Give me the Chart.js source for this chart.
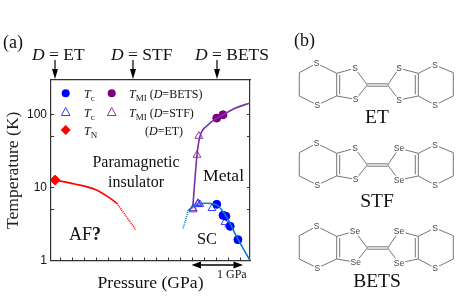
<!DOCTYPE html>
<html>
<head>
<meta charset="utf-8">
<script src="https://cdn.jsdelivr.net/npm/chart.js@4"></script>
<style>
    html, body { margin: 0; padding: 0; background: #fff; }
    #wrap { position: relative; width: 463px; height: 301px; overflow: hidden; }
    #chart, #overlay { position: absolute; left: 0; top: 0; }
    #overlay text { font-family: "Liberation Serif", serif; fill: #111; }
    #overlay .atom { font-family: "Liberation Sans", sans-serif; font-size: 8.5px; fill: #444; text-anchor: middle;
        paint-order: stroke; stroke: #fff; stroke-width: 3px; }
</style>
</head>
<body>
<div id="wrap">
    <canvas id="chart" width="463" height="301"></canvas>
    <svg id="overlay" width="463" height="301" xmlns="http://www.w3.org/2000/svg"></svg>
</div>
<script>
// Phase diagram data: pressure in GPa (relative), temperature in K
const afLineP = [-0.10, 0.31, 0.73, 0.98, 1.18];
const afLineT = [12.7, 11.2, 9.44, 7.6, 6.1];
const afDotP = [1.18, 1.37, 1.57];
const afDotT = [6.1, 4.05, 2.65];
const miLineP = [2.74, 2.755, 2.78, 2.81, 2.84, 2.90, 3.05, 3.25, 3.38, 3.63, 3.94];
const miLineT = [5.2, 5.7, 9.2, 16.4, 28, 50, 70.5, 89.5, 100, 123, 145];
const scLineP = [2.66, 2.84, 3.05, 3.26, 3.46, 3.67, 3.94];
const scLineT = [4.9, 5.9, 6.1, 5.7, 3.9, 2.07, 1.0];
const scDotP = [2.55, 2.59, 2.66];
const scDotT = [2.76, 3.34, 4.9];

const tcBetsP = [3.25, 3.38, 3.44, 3.53, 3.69];
const tcBetsT = [5.9, 4.17, 4.05, 2.94, 1.93];
const tcStfP = [2.76, 2.86, 2.90, 3.15, 3.42, 3.50];
const tcStfT = [5.0, 6.1, 5.9, 5.2, 3.34, 3.1];
const tmiBetsP = [3.25, 3.38];
const tmiBetsT = [90, 100];
const tmiStfP = [2.88, 2.84, 2.76, 2.86];
const tmiStfT = [51, 28, 5.2, 5.9];
const tnEtP = [-0.10];
const tnEtT = [12.7];

const yTicks = [1, 5, 10, 50, 100];
const yTickLabels = [1, 10, 100];
const xTicks = [0, 0.25, 0.5, 0.75, 1, 1.25, 1.5, 1.75, 2, 2.25, 2.5, 2.75, 3, 3.25, 3.5, 3.75];

const blue = '#0000ff';
const openBlue = '#3a3aff';
const domeBlue = '#0b7fc6';
const purple = '#7a2ea6';
const darkPurple = '#80007f';
const openPurple = '#9a2fa8';
const red = '#ff0000';
const ink = '#333';

function toPoints(xs, ys) {
    return xs.map((x, i) => ({ x: x, y: ys[i] }));
}

function lineSet(xs, ys, color, dash) {
    return {
        data: toPoints(xs, ys),
        showLine: true,
        borderColor: color,
        borderWidth: 1.6,
        borderDash: dash || [],
        pointRadius: 0,
        cubicInterpolationMode: 'monotone'
    };
}

function markerSet(xs, ys, style, color, filled, radius) {
    return {
        data: toPoints(xs, ys),
        showLine: false,
        pointStyle: style,
        pointRadius: radius,
        pointBorderColor: color,
        pointBorderWidth: 1,
        pointBackgroundColor: filled ? color : 'rgba(0,0,0,0)'
    };
}

function fixedTicks(list) {
    return axis => { axis.ticks = list.map(v => ({ value: v })); };
}

function fixedSize(prop, size) {
    return axis => { axis[prop] = size; };
}

new Chart(document.getElementById('chart').getContext('2d'), {
    type: 'scatter',
    data: {
        datasets: [
            lineSet(scLineP, scLineT, domeBlue),
            lineSet(scDotP, scDotT, domeBlue, [1, 1]),
            lineSet(miLineP, miLineT, purple),
            lineSet(afLineP, afLineT, red),
            lineSet(afDotP, afDotT, red, [1, 1]),
            markerSet(tcBetsP, tcBetsT, 'circle', blue, true, 4),
            markerSet(tcStfP, tcStfT, 'triangle', openBlue, false, 4.5),
            markerSet(tmiBetsP, tmiBetsT, 'circle', darkPurple, true, 4),
            markerSet(tmiStfP, tmiStfT, 'triangle', openPurple, false, 4.5),
            markerSet(tnEtP, tnEtT, 'rectRot', red, true, 5)
        ]
    },
    options: {
        responsive: false,
        animation: false,
        layout: { padding: { left: 0, top: 80, right: 213, bottom: 0 } },
        plugins: { legend: { display: false }, tooltip: { enabled: false } },
        scales: {
            x: {
                type: 'linear',
                position: 'bottom',
                min: -0.187,
                max: 3.94,
                afterBuildTicks: fixedTicks(xTicks),
                afterFit: fixedSize('height', 40.5),
                border: { color: ink, width: 1.2 },
                grid: { drawOnChartArea: false, tickLength: -3, tickColor: ink },
                ticks: { display: false, autoSkip: false },
                title: {
                    display: true,
                    text: 'Pressure (GPa)',
                    color: '#111',
                    font: { family: '"Liberation Serif", serif', size: 17.6 },
                    padding: { top: 0, bottom: 7 }
                }
            },
            x2: {
                type: 'linear',
                position: 'top',
                min: -0.187,
                max: 3.94,
                afterFit: fixedSize('height', 0),
                border: { color: ink, width: 1.2 },
                grid: { display: false },
                ticks: { display: false }
            },
            y: {
                type: 'logarithmic',
                position: 'left',
                min: 1,
                max: 300,
                afterBuildTicks: fixedTicks(yTicks),
                afterFit: fixedSize('width', 51),
                border: { color: ink, width: 1.2 },
                grid: { drawOnChartArea: false, tickLength: -3, tickColor: ink },
                ticks: {
                    autoSkip: false,
                    padding: 7,
                    color: '#111',
                    font: { family: '"Liberation Sans", sans-serif', size: 12 },
                    callback: v => yTickLabels.includes(v) ? String(v) : ''
                },
                title: {
                    display: true,
                    text: 'Temperature (K)',
                    color: '#222',
                    font: { family: '"Liberation Serif", serif', size: 17.6 },
                    padding: { top: 3, bottom: 0 }
                }
            },
            y2: {
                type: 'logarithmic',
                position: 'right',
                min: 1,
                max: 300,
                afterBuildTicks: fixedTicks(yTicks),
                afterFit: fixedSize('width', 0),
                border: { color: ink, width: 1.2 },
                grid: { drawOnChartArea: false, tickLength: -3, tickColor: ink },
                ticks: { display: false, autoSkip: false }
            }
        }
    }
});

// Annotations and molecule sketches go in an SVG on top of the canvas
const svg = document.getElementById('overlay');
const NS = 'http://www.w3.org/2000/svg';

function add(name, attrs, parent) {
    const el = document.createElementNS(NS, name);
    Object.keys(attrs).forEach(k => el.setAttribute(k, attrs[k]));
    (parent || svg).appendChild(el);
    return el;
}

// parts: plain strings or [text, {tspan attributes}]
function label(x, y, size, parts, anchor) {
    const t = add('text', { x: x, y: y, 'font-size': size, 'text-anchor': anchor || 'start' });
    [].concat(parts).forEach(p => {
        const span = add('tspan', Array.isArray(p) ? p[1] : {}, t);
        span.textContent = Array.isArray(p) ? p[0] : p;
    });
}

const ital = { 'font-style': 'italic' };

function subscript(text) {
    return [text, { 'font-size': 9, dy: 3 }];
}

function afterSub(text) {
    return [text, { dy: -3 }];
}

label(3, 48, 18, '(a)');
label(294, 46, 18, '(b)');

label(32, 60, 17.5, [['D', ital], ' = ET']);
label(111, 60, 17.5, [['D', ital], ' = STF']);
label(195, 60, 17.5, [['D', ital], ' = BETS']);

function downArrow(x) {
    add('line', { x1: x, y1: 60, x2: x, y2: 72, stroke: '#000', 'stroke-width': 1.2 });
    add('path', { d: `M${x - 3} 69 L${x + 3} 69 L${x} 79 Z`, fill: '#000' });
}
[55, 133, 217].forEach(downArrow);

// Legend
label(84, 98, 12, [['T', ital], subscript('c')]);
label(84, 117, 12, [['T', ital], subscript('c')]);
label(84, 135, 12, [['T', ital], subscript('N')]);
label(129, 98, 12, [['T', ital], subscript('MI'), afterSub(' ('), ['D', ital], '=BETS)']);
label(129, 117, 12, [['T', ital], subscript('MI'), afterSub(' ('), ['D', ital], '=STF)']);
label(145, 135, 12, ['(', ['D', ital], '=ET)']);

add('circle', { cx: 65.7, cy: 93.3, r: 4, fill: blue });
add('path', { d: 'M65.7 107.5 L70 115.5 L61.4 115.5 Z', fill: 'none', stroke: openBlue, 'stroke-width': 1 });
add('path', { d: 'M65.7 125 L70.7 130 L65.7 135 L60.7 130 Z', fill: red });
add('circle', { cx: 111.7, cy: 93.3, r: 4, fill: darkPurple });
add('path', { d: 'M111.7 107.5 L116 115.5 L107.4 115.5 Z', fill: 'none', stroke: openPurple, 'stroke-width': 1 });

// Region labels
label(136, 167, 16, 'Paramagnetic', 'middle');
label(136, 187, 16, 'insulator', 'middle');
label(203, 181, 17.6, 'Metal');
label(69, 240, 18, ['AF', ['?', { 'font-weight': 'bold' }]]);
label(197, 244, 16.4, 'SC');
label(217, 278, 12, '1 GPa');

// 1 GPa bracket
add('line', { x1: 194, y1: 265, x2: 241, y2: 265, stroke: '#000', 'stroke-width': 1.5 });
add('path', { d: 'M191.5 265 L201 261.5 L201 268.5 Z M243 265 L233.5 261.5 L233.5 268.5 Z', fill: '#000' });

// Molecules: shared skeleton, dy shifts each copy down the page
const ringBonds = [
    [299.3, 72.7, 299.3, 96], [299.3, 72.7, 316.7, 63.3], [316.7, 63.3, 336.7, 73.3],
    [299.3, 96, 317.3, 105], [317.3, 105, 336.7, 96], [336.7, 73.3, 336.7, 96],
    [339.7, 75, 339.7, 94.3], [336.7, 73.3, 355, 68.3], [336.7, 96, 355.7, 99.3],
    [355, 68.3, 367.3, 85], [355.7, 99.3, 367.3, 85],
    [367.3, 83.8, 387.7, 83.8], [367.3, 86.2, 387.7, 86.2],
    [387.7, 85, 399, 68.3], [387.7, 85, 399, 100], [399, 68.3, 418.3, 73.3], [399, 100, 418.3, 96],
    [418.3, 73.3, 418.3, 96], [415.3, 75, 415.3, 94.3], [418.3, 73.3, 435, 65], [418.3, 96, 435, 105],
    [435, 65, 453.3, 72.7], [435, 105, 453.3, 96], [453.3, 72.7, 453.3, 96]
];
const outerAtoms = [[316.7, 63.3], [317.3, 105], [435, 65], [435, 105]];
const leftAtoms = [[355, 68.3], [355.7, 99.3]];
const rightAtoms = [[399, 68.3], [399, 100]];

function molecule(dy, leftEl, rightEl, name, nameY) {
    ringBonds.forEach(b => {
        add('line', { x1: b[0], y1: b[1] + dy, x2: b[2], y2: b[3] + dy, stroke: '#666', 'stroke-width': 0.9 });
    });
    function atoms(list, el) {
        list.forEach(a => {
            add('text', { class: 'atom', x: a[0], y: a[1] + dy + 3 }).textContent = el;
        });
    }
    atoms(outerAtoms, 'S');
    atoms(leftAtoms, leftEl);
    atoms(rightAtoms, rightEl);
    label(377, nameY, 19.5, name, 'middle');
}

molecule(0, 'S', 'S', 'ET', 122.5);
molecule(80, 'S', 'Se', 'STF', 207);
molecule(163, 'Se', 'Se', 'BETS', 287);
</script>
</body>
</html>
